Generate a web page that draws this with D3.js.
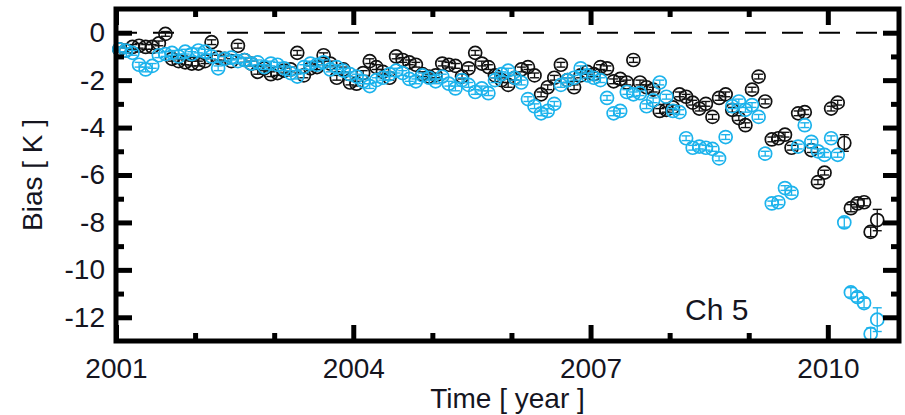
<!DOCTYPE html>
<html>
<head>
<meta charset="utf-8">
<script src="https://cdn.jsdelivr.net/npm/d3@7"></script>
<style>
  body { margin: 0; background: #fff; }
  text { font-family: "Liberation Sans", Arial, Helvetica, sans-serif; fill: #15151f; }
</style>
</head>
<body>
<script>
// monthly bias values, one row per year (2001 .. 2010)
let blackBias = [
  [-0.7, -0.75, -0.6, -0.55, -0.6, -0.6, -0.45, -0.05, -1.1, -1.2, -1.25, -1.3],
  [-1.3, -1.2, -0.4, -1.05, -1.1, -1.2, -0.55, -1.15, -1.3, -1.65, -1.5, -1.75],
  [-1.7, -1.6, -1.55, -0.85, -1.8, -1.5, -1.45, -0.95, -1.3, -1.9, -1.55, -2.1],
  [-2.15, -1.7, -1.2, -1.45, -1.65, -1.9, -1.0, -1.15, -1.25, -1.35, -1.75, -1.85],
  [-1.8, -1.3, -1.35, -1.4, -1.85, -1.5, -0.85, -1.3, -1.45, -1.8, -2.0, -2.2],
  [-1.9, -1.55, -1.45, -1.8, -2.6, -2.3, -1.9, -1.35, -2.0, -2.3, -1.8, -1.65],
  [-1.75, -1.45, -1.5, -2.05, -1.95, -2.1, -1.15, -2.1, -2.3, -2.4, -3.3, -3.25],
  [-3.15, -2.6, -2.7, -2.95, -3.2, -3.0, -3.55, -2.75, -2.6, -3.25, -3.6, -3.9],
  [-2.4, -1.85, -2.9, -4.5, -4.45, -4.3, -4.85, -3.4, -3.35, -4.95, -6.3, -5.9],
  [-3.2, -2.95, -4.65, -7.4, -7.2, -7.15, -8.4, -7.9]
];
let cyanBias = [
  [-0.7, -0.75, -0.85, -1.35, -1.55, -1.4, -0.95, -0.9, -0.85, -1.0, -0.8, -0.9],
  [-0.75, -0.8, -1.0, -1.5, -1.1, -1.05, -1.2, -1.15, -1.3, -1.25, -1.45, -1.3],
  [-1.35, -1.5, -1.7, -1.85, -1.45, -1.3, -1.35, -1.25, -1.55, -1.45, -1.6, -1.75],
  [-1.85, -2.05, -2.25, -2.0, -1.9, -1.75, -1.6, -1.7, -1.95, -2.05, -1.8, -1.9],
  [-2.05, -1.85, -2.15, -2.35, -2.0, -2.2, -2.5, -2.35, -2.55, -2.0, -1.75, -1.6],
  [-1.9, -2.1, -2.8, -3.1, -3.4, -3.3, -3.0, -2.2, -2.0, -1.9, -1.5, -1.8],
  [-1.9, -2.0, -2.75, -3.4, -3.3, -2.5, -2.6, -2.55, -3.1, -2.85, -2.1, -2.7],
  [-3.3, -3.35, -4.45, -4.85, -4.8, -4.85, -4.9, -5.3, -4.4, -3.1, -2.9, -3.25],
  [-3.05, -3.55, -5.1, -7.2, -7.15, -6.55, -6.75, -4.8, -3.9, -4.6, -5.0, -5.15],
  [-4.45, -5.15, -8.0, -10.95, -11.15, -11.4, -12.7, -12.1]
];

// error bar half widths [K]: typical value, and the larger ones of 2010
let typicalErr = 0.1;
let blackErr2010 = [0.1, 0.1, 0.35, 0.15, 0.15, 0.15, 0.2, 0.45];
let cyanErr2010 = [0.1, 0.1, 0.2, 0.2, 0.2, 0.2, 0.25, 0.5];

let firstYear = 2001;
let xMajor = [2001, 2004, 2007, 2010];
let xMinor = [2002, 2003, 2005, 2006, 2008, 2009];
let yMajor = [-12, -10, -8, -6, -4, -2, 0];
let yMinor = [-11, -9, -7, -5, -3, -1];

let colBlack = "#111111";
let colCyan = "#1cb3ec";

// flatten yearly rows into points with a decimal time
function toPoints(rows, lastErr) {
  let pts = [];
  rows.forEach(function(row, yi) {
    row.forEach(function(v, m) {
      let e = (yi === rows.length - 1) ? lastErr[m] : typicalErr;
      pts.push({t: firstYear + yi + (m + 0.5) / 12, v: v, e: e});
    });
  });
  return pts;
}

let blackPts = toPoints(blackBias, blackErr2010);
let cyanPts = toPoints(cyanBias, cyanErr2010);

let W = 905, H = 415;
let plotLeft = 116, plotRight = 899, plotTop = 9, plotBottom = 341;

let xScale = d3.scaleLinear().domain([2001, 2010.9]).range([plotLeft, plotRight]);
let yScale = d3.scaleLinear().domain([-13, 1]).range([plotBottom, plotTop]);

let svg = d3.select("body").append("svg")
    .attr("width", W)
    .attr("height", H);

// zero line
svg.append("line")
    .attr("x1", plotLeft).attr("x2", plotRight)
    .attr("y1", yScale(0)).attr("y2", yScale(0))
    .attr("stroke", "#000")
    .attr("stroke-width", 2)
    .attr("stroke-dasharray", "21,16");

// data points: open circles with small error bars
function drawSeries(pts, col) {
  let g = svg.append("g");
  let p = g.selectAll("g.pt")
      .data(pts)
    .enter().append("g")
      .attr("class", "pt")
      .attr("transform", function(d) { return "translate(" + xScale(d.t) + "," + yScale(d.v) + ")"; });

  p.append("circle")
      .attr("r", 6.5)
      .attr("fill", "none")
      .attr("stroke", col)
      .attr("stroke-width", 1.7);

  p.append("line")
      .attr("x1", 0).attr("x2", 0)
      .attr("y1", function(d) { return yScale(d.v + d.e) - yScale(d.v); })
      .attr("y2", function(d) { return yScale(d.v - d.e) - yScale(d.v); })
      .attr("stroke", col).attr("stroke-width", 1.3);

  [1, -1].forEach(function(s) {
    p.append("line")
        .attr("x1", -4.5).attr("x2", 4.5)
        .attr("y1", function(d) { return yScale(d.v + s * d.e) - yScale(d.v); })
        .attr("y2", function(d) { return yScale(d.v + s * d.e) - yScale(d.v); })
        .attr("stroke", col).attr("stroke-width", 1.4);
  });
}

drawSeries(blackPts, colBlack);
drawSeries(cyanPts, colCyan);

// axes, ticks pointing inward
function styleAxis(g, fontSize) {
  g.select(".domain").remove();
  g.selectAll(".tick line").attr("stroke", "#000").attr("stroke-width", 5);
  g.selectAll("text")
      .style("font-size", fontSize + "px")
      .attr("fill", "#15151f");
}

let intFmt = function(d) { return String(d); };

svg.append("g")
    .attr("transform", "translate(0," + plotBottom + ")")
    .call(d3.axisBottom(xScale).tickValues(xMajor).tickSizeInner(-16).tickSizeOuter(0)
      .tickPadding(17).tickFormat(intFmt))
    .call(styleAxis, 28);
svg.append("g")
    .attr("transform", "translate(0," + plotBottom + ")")
    .call(d3.axisBottom(xScale).tickValues(xMinor).tickSizeInner(-8).tickSizeOuter(0).tickFormat(""))
    .call(styleAxis, 28);
svg.append("g")
    .attr("transform", "translate(0," + plotTop + ")")
    .call(d3.axisTop(xScale).tickValues(xMajor).tickSizeInner(-16).tickSizeOuter(0).tickFormat(""))
    .call(styleAxis, 28);
svg.append("g")
    .attr("transform", "translate(0," + plotTop + ")")
    .call(d3.axisTop(xScale).tickValues(xMinor).tickSizeInner(-8).tickSizeOuter(0).tickFormat(""))
    .call(styleAxis, 28);

svg.append("g")
    .attr("transform", "translate(" + plotLeft + ",0)")
    .call(d3.axisLeft(yScale).tickValues(yMajor).tickSizeInner(-16).tickSizeOuter(0)
      .tickPadding(11).tickFormat(intFmt))
    .call(styleAxis, 28);
svg.append("g")
    .attr("transform", "translate(" + plotLeft + ",0)")
    .call(d3.axisLeft(yScale).tickValues(yMinor).tickSizeInner(-8).tickSizeOuter(0).tickFormat(""))
    .call(styleAxis, 28);
svg.append("g")
    .attr("transform", "translate(" + plotRight + ",0)")
    .call(d3.axisRight(yScale).tickValues(yMajor).tickSizeInner(-16).tickSizeOuter(0).tickFormat(""))
    .call(styleAxis, 28);
svg.append("g")
    .attr("transform", "translate(" + plotRight + ",0)")
    .call(d3.axisRight(yScale).tickValues(yMinor).tickSizeInner(-8).tickSizeOuter(0).tickFormat(""))
    .call(styleAxis, 28);

// frame
svg.append("rect")
    .attr("x", plotLeft).attr("y", plotTop)
    .attr("width", plotRight - plotLeft).attr("height", plotBottom - plotTop)
    .attr("fill", "none")
    .attr("stroke", "#000")
    .attr("stroke-width", 5);

// titles
svg.append("text")
    .attr("x", (plotLeft + plotRight) / 2).attr("y", 408)
    .attr("text-anchor", "middle")
    .style("font-size", "28px")
    .text("Time [ year ]");

svg.append("text")
    .attr("transform", "translate(42," + (plotTop + plotBottom) / 2 + ") rotate(-90)")
    .attr("text-anchor", "middle")
    .style("font-size", "28px")
    .text("Bias [ K ]");

svg.append("text")
    .attr("x", 685).attr("y", 320)
    .style("font-size", "30px")
    .text("Ch 5");
</script>
</body>
</html>
